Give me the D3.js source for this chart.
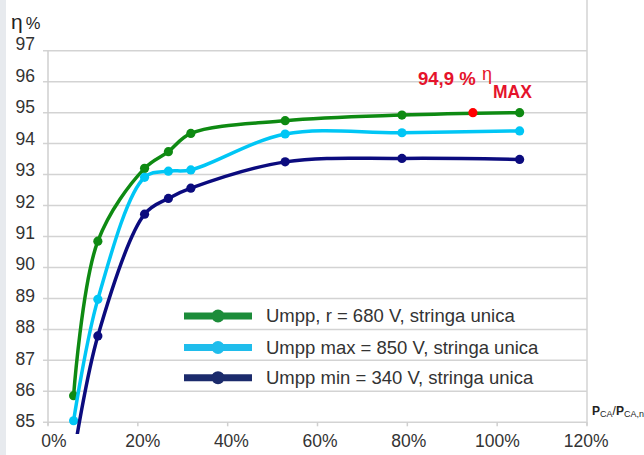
<!DOCTYPE html>
<html>
<head>
<meta charset="utf-8">
<script src="https://cdnjs.cloudflare.com/ajax/libs/d3/7.8.5/d3.min.js"></script>
<style>
  body { margin: 0; background: #fff; }
  svg { display: block; font-family: "Liberation Sans", Arial, sans-serif; }
</style>
</head>
<body>
<svg id="etaChart" width="644" height="455"></svg>
<script>
// load (P_CA / P_CA,n in %) and efficiency values
const loadLevels = [5.7, 11.1, 21.5, 26.8, 31.8, 52.8, 78.8, 105];
const etaNominal = [85.86, 90.85, 93.2, 93.74, 94.33, 94.74, 94.92, 95.0];
const etaMaxV = [85.05, 88.97, 92.91, 93.11, 93.15, 94.31, 94.35, 94.41];
const etaMinV = [83.9, 87.79, 91.72, 92.23, 92.56, 93.41, 93.52, 93.49];
const seriesNames = [
  "Umpp, r = 680 V, stringa unica",
  "Umpp max = 850 V, stringa unica",
  "Umpp min = 340 V, stringa unica"
];
const yTicks = [85, 86, 87, 88, 89, 90, 91, 92, 93, 94, 95, 96, 97];
const xTicks = [0, 20, 40, 60, 80, 100, 120];
const peakLoad = [94.6];
const peakEta = [95.0];

const lineColors = ["#0e8a12", "#00c6f5", "#0b0b7e"];
const legendColors = ["#1c8c3a", "#1fbdec", "#1b2b6c"];

$run();

function $run () {
  const svg = d3.select("#etaChart");
  const x = d3.scaleLinear().domain([0, 120]).range([48, 587]);
  const y = d3.scaleLinear().domain([85, 97]).range([422.3, 50.7]);

  // grey strip on the left edge
  svg.append("rect")
    .attr("x", 0).attr("y", 0).attr("width", 6).attr("height", 455)
    .attr("fill", "#e7eaee");

  // horizontal gridlines (with a small tick left of the axis)
  svg.append("g").selectAll("line")
    .data(yTicks)
    .join("line")
    .attr("x1", 43).attr("x2", 587)
    .attr("y1", d => y(d)).attr("y2", d => y(d))
    .attr("stroke", "#d3d3d3")
    .attr("stroke-width", 1.5);

  // left axis and right frame line
  svg.append("line")
    .attr("x1", x(0)).attr("x2", x(0))
    .attr("y1", y(97)).attr("y2", y(85) + 3)
    .attr("stroke", "#cfcfcf").attr("stroke-width", 1.5);
  svg.append("line")
    .attr("x1", x(120)).attr("x2", x(120))
    .attr("y1", 0).attr("y2", y(85) + 3)
    .attr("stroke", "#d3d3d3").attr("stroke-width", 1.5);

  // x ticks
  svg.append("g").selectAll("line")
    .data(xTicks)
    .join("line")
    .attr("x1", d => x(d)).attr("x2", d => x(d))
    .attr("y1", y(85)).attr("y2", y(85) + 4)
    .attr("stroke", "#cfcfcf").attr("stroke-width", 1.5);

  // y tick labels
  svg.append("g").selectAll("text")
    .data(yTicks)
    .join("text")
    .attr("x", 35)
    .attr("y", d => y(d) - 1 - (d - 85) * 0.45)
    .attr("dy", "0.35em")
    .attr("text-anchor", "end")
    .attr("font-size", 17.5)
    .attr("fill", "#333")
    .text(d => d);

  // x tick labels
  svg.append("g").selectAll("text")
    .data(xTicks)
    .join("text")
    .attr("x", (d, i) => 54 + i * 88.7)
    .attr("y", 441)
    .attr("dy", "0.35em")
    .attr("text-anchor", "middle")
    .attr("font-size", 17.5)
    .attr("fill", "#333")
    .text(d => d + "%");

  // y title
  const yt = svg.append("text").attr("x", 11).attr("y", 29).attr("fill", "#222");
  yt.append("tspan").attr("font-size", 21).text("η");
  yt.append("tspan").attr("font-size", 16.5).attr("dx", 3).text("%");

  // x title P_CA / P_CA,n
  const xt = svg.append("text").attr("x", 592).attr("y", 415).attr("fill", "#222").attr("font-size", 12);
  xt.append("tspan").attr("font-weight", "bold").text("P");
  xt.append("tspan").attr("font-size", 9).attr("dy", 2).text("CA");
  xt.append("tspan").attr("dy", -2).text("/");
  xt.append("tspan").attr("font-weight", "bold").text("P");
  xt.append("tspan").attr("font-size", 9).attr("dy", 2).text("CA,n");

  // curves
  svg.append("clipPath").attr("id", "plotClip")
    .append("rect").attr("x", 0).attr("y", 0).attr("width", 644).attr("height", 434);

  const allSeries = [etaNominal, etaMaxV, etaMinV];
  const line = d3.line()
    .x(d => x(d[0]))
    .y(d => y(d[1]))
    .curve(d3.curveCatmullRom.alpha(0.5));

  const plot = svg.append("g").attr("clip-path", "url(#plotClip)");
  allSeries.forEach(function (vals, i) {
    const pts = loadLevels.map((l, j) => [l, vals[j]]);
    plot.append("path")
      .attr("d", line(pts))
      .attr("fill", "none")
      .attr("stroke", lineColors[i])
      .attr("stroke-width", 3.5);
    plot.append("g").selectAll("circle")
      .data(pts)
      .join("circle")
      .attr("cx", d => x(d[0]))
      .attr("cy", d => y(d[1]))
      .attr("r", 4.6)
      .attr("fill", lineColors[i]);
  });

  // max efficiency point
  svg.append("circle")
    .attr("cx", x(peakLoad[0])).attr("cy", y(peakEta[0]))
    .attr("r", 4.6).attr("fill", "#ff0000");

  const red = "#e5132b";
  svg.append("text")
    .attr("x", 418).attr("y", 85)
    .attr("font-size", 18.5).attr("font-weight", "bold").attr("fill", red)
    .text("94,9 %");
  svg.append("text")
    .attr("x", 482).attr("y", 80)
    .attr("font-size", 18).attr("fill", red)
    .text("η");
  svg.append("text")
    .attr("x", 493).attr("y", 97.5)
    .attr("font-size", 17.5).attr("font-weight", "bold").attr("fill", red)
    .text("MAX");

  // legend
  const rows = [316, 347.5, 377.7];
  const legend = svg.append("g");
  seriesNames.forEach(function (name, i) {
    legend.append("line")
      .attr("x1", 184).attr("x2", 252)
      .attr("y1", rows[i]).attr("y2", rows[i])
      .attr("stroke", legendColors[i]).attr("stroke-width", 7);
    legend.append("circle")
      .attr("cx", 218).attr("cy", rows[i]).attr("r", 6.5)
      .attr("fill", legendColors[i]);
    legend.append("text")
      .attr("x", 266).attr("y", rows[i])
      .attr("dy", "0.35em")
      .attr("font-size", 18.5)
      .attr("fill", "#333")
      .text(name);
  });
}
</script>
</body>
</html>
